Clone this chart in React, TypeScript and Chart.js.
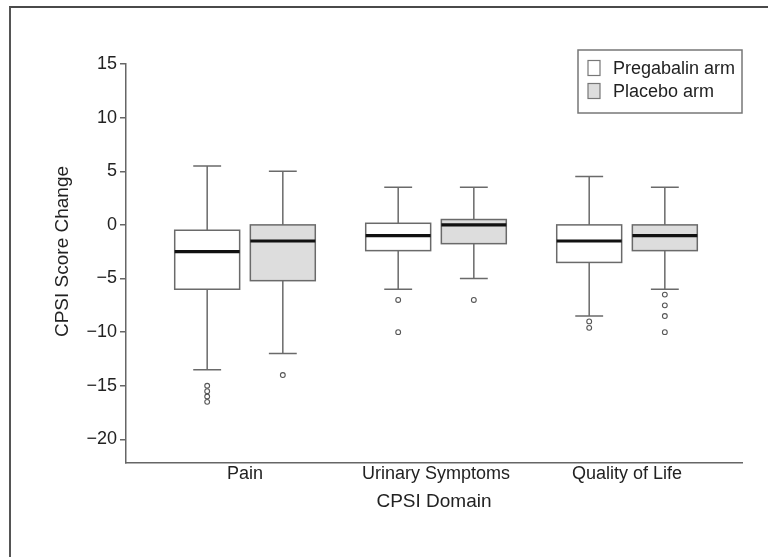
import React, { useEffect, useRef } from 'react';
import { Chart, registerables } from 'chart.js';

Chart.register(...registerables);

// ---------- data ----------
const domains = ['Pain', 'Urinary Symptoms', 'Quality of Life'];
const arms = ['Pregabalin arm', 'Placebo arm'];
const yTickValues = [-20, -15, -10, -5, 0, 5, 10, 15];
const yAxisTitle = 'CPSI Score Change';
const xAxisTitle = 'CPSI Domain';

// Pregabalin arm (per domain)
const pregWhiskerHigh = [5.5, 3.5, 4.5];
const pregQ3 = [-0.5, 0.15, 0];
const pregMedian = [-2.5, -1, -1.5];
const pregQ1 = [-6, -2.4, -3.5];
const pregWhiskerLow = [-13.5, -6, -8.5];
const pregOutliers = [[-15, -15.5, -16, -16.5], [-7, -10], [-9, -9.6]];

// Placebo arm (per domain)
const placWhiskerHigh = [5, 3.5, 3.5];
const placQ3 = [0, 0.5, 0];
const placMedian = [-1.5, 0, -1];
const placQ1 = [-5.2, -1.75, -2.4];
const placWhiskerLow = [-12, -5, -6];
const placOutliers = [[-14], [-7], [-6.5, -7.5, -8.5, -10]];

// ---------- styles / geometry (in data units of the x scale) ----------
const FONT = "'Liberation Sans', Arial, Helvetica, sans-serif";
const TEXT = '#222222';
const AXIS = '#666666';
const LINE = '#6a6a6a';
const armFill = ['#ffffff', '#dddddd'];
const armOffset = [-0.198, 0.198];
const BOX_HALF = 0.17;
const CAP_HALF = 0.073;

const armStats = [
  { hi: pregWhiskerHigh, q3: pregQ3, med: pregMedian, q1: pregQ1, lo: pregWhiskerLow },
  { hi: placWhiskerHigh, q3: placQ3, med: placMedian, q1: placQ1, lo: placWhiskerLow },
];
const armOutliers = [pregOutliers, placOutliers];

const fmt = (v: number) => (v < 0 ? '\u2212' + Math.abs(v) : String(v));

const boxPlugin = {
  id: 'boxes',
  beforeDatasetsDraw(chart: any) {
    const { ctx, scales } = chart;
    const x = scales.x;
    const y = scales.y;
    ctx.save();
    armStats.forEach((s, a) => {
      domains.forEach((_, i) => {
        const c = i + 1 + armOffset[a];
        const xc = x.getPixelForValue(c);
        const xl = x.getPixelForValue(c - BOX_HALF);
        const xr = x.getPixelForValue(c + BOX_HALF);
        const cl = x.getPixelForValue(c - CAP_HALF);
        const cr = x.getPixelForValue(c + CAP_HALF);
        const yHi = y.getPixelForValue(s.hi[i]);
        const yQ3 = y.getPixelForValue(s.q3[i]);
        const yMed = y.getPixelForValue(s.med[i]);
        const yQ1 = y.getPixelForValue(s.q1[i]);
        const yLo = y.getPixelForValue(s.lo[i]);

        ctx.strokeStyle = LINE;
        ctx.lineWidth = 1.5;
        ctx.beginPath();
        ctx.moveTo(xc, yQ3);
        ctx.lineTo(xc, yHi);
        ctx.moveTo(cl, yHi);
        ctx.lineTo(cr, yHi);
        ctx.moveTo(xc, yQ1);
        ctx.lineTo(xc, yLo);
        ctx.moveTo(cl, yLo);
        ctx.lineTo(cr, yLo);
        ctx.stroke();

        ctx.fillStyle = armFill[a];
        ctx.fillRect(xl, yQ3, xr - xl, yQ1 - yQ3);
        ctx.strokeRect(xl, yQ3, xr - xl, yQ1 - yQ3);

        ctx.strokeStyle = '#111111';
        ctx.lineWidth = 3.2;
        ctx.beginPath();
        ctx.moveTo(xl, yMed);
        ctx.lineTo(xr, yMed);
        ctx.stroke();
      });
    });
    ctx.restore();
  },
};

const decorPlugin = {
  id: 'decor',
  afterDraw(chart: any) {
    const { ctx, chartArea } = chart;
    ctx.save();
    // y-axis title
    ctx.translate(chartArea.left - 63.5, (chartArea.top + chartArea.bottom) / 2 - 12);
    ctx.rotate(-Math.PI / 2);
    ctx.font = `19px ${FONT}`;
    ctx.fillStyle = TEXT;
    ctx.textAlign = 'center';
    ctx.textBaseline = 'middle';
    ctx.fillText(yAxisTitle, 0, 0);
    ctx.restore();

    // legend
    ctx.save();
    const w = 164;
    const h = 63;
    const left = chartArea.right - w;
    const top = chartArea.top - 14;
    ctx.fillStyle = '#ffffff';
    ctx.fillRect(left, top, w, h);
    ctx.strokeStyle = '#777777';
    ctx.lineWidth = 1.5;
    ctx.strokeRect(left, top, w, h);
    ctx.font = `18px ${FONT}`;
    ctx.textBaseline = 'middle';
    ctx.textAlign = 'left';
    chart.data.datasets.forEach((ds: any, k: number) => {
      const cy = top + 18 + k * 23;
      ctx.fillStyle = armFill[k];
      ctx.fillRect(left + 10, cy - 7.5, 12, 15);
      ctx.strokeStyle = '#777777';
      ctx.lineWidth = 1.2;
      ctx.strokeRect(left + 10, cy - 7.5, 12, 15);
      ctx.fillStyle = TEXT;
      ctx.fillText(ds.label, left + 35, cy + 1);
    });
    ctx.restore();
  },
};

export default function App() {
  const ref = useRef<HTMLCanvasElement>(null);

  useEffect(() => {
    const datasets = arms.map((label, a) => ({
      label,
      data: armOutliers[a].flatMap((vals, i) =>
        vals.map((v) => ({ x: i + 1 + armOffset[a], y: v }))
      ),
      pointRadius: 2.4,
      pointBorderWidth: 1.1,
      pointBackgroundColor: '#ffffff',
      pointBorderColor: '#555555',
      showLine: false,
    }));

    const chart = new Chart(ref.current as HTMLCanvasElement, {
      type: 'scatter',
      data: { datasets },
      plugins: [boxPlugin, decorPlugin],
      options: {
        responsive: false,
        animation: false,
        devicePixelRatio: 1,
        layout: { padding: { left: 0, right: 26, top: 56, bottom: 0 } },
        plugins: { legend: { display: false }, tooltip: { enabled: false } },
        scales: {
          x: {
            type: 'linear',
            min: 0.377,
            max: 3.602,
            afterBuildTicks: (s: any) => {
              s.ticks = domains.map((_, i) => ({ value: i + 1 }));
            },
            afterFit: (s: any) => {
              s.height = 94;
            },
            grid: { display: false, drawTicks: false, tickLength: 0 },
            border: { display: true, color: AXIS, width: 1.5 },
            ticks: {
              autoSkip: false,
              maxRotation: 0,
              padding: 0,
              color: TEXT,
              font: { family: FONT, size: 18 },
              callback: (v: any) => domains[Math.round(Number(v)) - 1] ?? '',
            },
            title: {
              display: true,
              text: xAxisTitle,
              color: TEXT,
              font: { family: FONT, size: 19 },
              padding: { top: 0, bottom: 44 },
            },
          },
          y: {
            type: 'linear',
            min: -22.2,
            max: 15,
            afterBuildTicks: (s: any) => {
              s.ticks = yTickValues.map((v) => ({ value: v }));
            },
            afterFit: (s: any) => {
              s.width = 115;
            },
            grid: {
              drawOnChartArea: false,
              drawTicks: true,
              tickLength: 6,
              color: AXIS,
              lineWidth: 1.5,
            },
            border: { display: true, color: AXIS, width: 1.5 },
            ticks: {
              padding: 3,
              color: TEXT,
              font: { family: FONT, size: 18 },
              callback: (v: any) => fmt(Number(v)),
            },
          },
        },
      } as any,
    });
    return () => chart.destroy();
  }, []);

  return (
    <div
      style={{
        position: 'absolute',
        left: 9,
        top: 6,
        width: 757,
        height: 549,
        borderTop: '2px solid #4a4a4a',
        borderLeft: '2px solid #555555',
        background: '#ffffff',
      }}
    >
      <canvas ref={ref} width={757} height={549} style={{ display: 'block' }} />
    </div>
  );
}
